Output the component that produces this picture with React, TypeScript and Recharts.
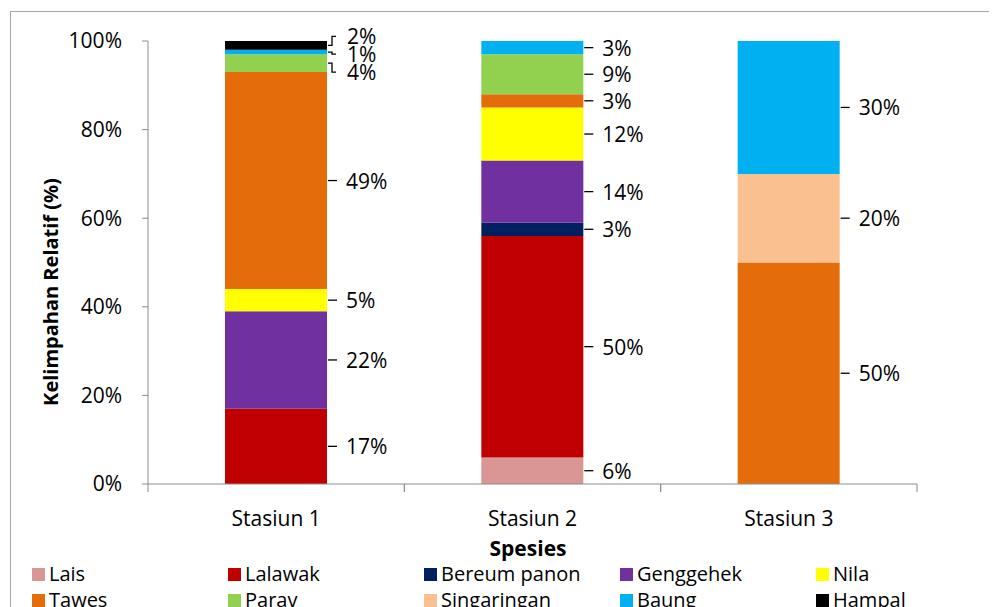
import React from 'react';
import { BarChart, Bar, XAxis, YAxis, LabelList } from 'recharts';

// Relative abundance (%) per station, one array per species
const categories = ['Stasiun 1', 'Stasiun 2', 'Stasiun 3'];
const lais = [0, 6, 0];
const lalawak = [17, 50, 0];
const bereumPanon = [0, 3, 0];
const genggehek = [22, 14, 0];
const nila = [5, 12, 0];
const tawes = [49, 3, 50];
const parav = [4, 9, 0];
const singaringan = [0, 0, 20];
const baung = [1, 3, 30];
const hampal = [2, 0, 0];
const yTicks = [0, 20, 40, 60, 80, 100];

const series = [
  { key: 'lais', name: 'Lais', color: '#D99694', values: lais },
  { key: 'lalawak', name: 'Lalawak', color: '#C00000', values: lalawak },
  { key: 'bereumPanon', name: 'Bereum panon', color: '#002060', values: bereumPanon },
  { key: 'genggehek', name: 'Genggehek', color: '#7030A0', values: genggehek },
  { key: 'nila', name: 'Nila', color: '#FFFF00', values: nila },
  { key: 'tawes', name: 'Tawes', color: '#E46C0A', values: tawes },
  { key: 'parav', name: 'Parav', color: '#92D050', values: parav },
  { key: 'singaringan', name: 'Singaringan', color: '#FAC090', values: singaringan },
  { key: 'baung', name: 'Baung', color: '#00B0F0', values: baung },
  { key: 'hampal', name: 'Hampal', color: '#000000', values: hampal },
];

const data = categories.map((cat, i) => {
  const row: Record<string, string | number> = { station: cat };
  series.forEach((s) => {
    row[s.key] = s.values[i];
  });
  return row;
});

const FONT = "'Open Sans', 'Noto Sans', sans-serif";
const AXIS_COLOR = '#8c8c8c';

const W = 989;
const H = 599;
const MARGIN = { top: 33, right: 80, left: 80, bottom: 63 };
const Y_AXIS_W = 60;
const X_AXIS_H = 60;
const PLOT_W = W - MARGIN.left - MARGIN.right - Y_AXIS_W;
const HALF_BAND = PLOT_W / categories.length / 2;

// Vertical nudges for crowded labels at the top of the first column
const LABEL_SHIFT: Record<string, number> = {
  'hampal|0': -9,
  'baung|0': 2,
  'parav|0': 9,
};

const makeLabel = (seriesKey: string) => (props: any) => {
  const { x, y, width, height, value, index } = props;
  if (!value) return null;
  const xe = Number(x) + Number(width);
  const ym = Number(y) + Number(height) / 2;
  const shift = LABEL_SHIFT[`${seriesKey}|${index}`] || 0;
  const leader =
    shift === 0
      ? `M${xe + 1},${ym} H${xe + 10}`
      : `M${xe + 1},${ym} H${xe + 5} V${ym + shift} H${xe + 9}`;
  return (
    <g>
      <path d={leader} stroke="#000" strokeWidth={1.3} fill="none" />
      <text
        x={xe + (shift === 0 ? 19 : 20)}
        y={ym + shift}
        dominantBaseline="central"
        fontSize={21}
        fontFamily={FONT}
        fill="#000"
      >
        {`${value}%`}
      </text>
    </g>
  );
};

const StationTick = (props: any) => {
  const { x, y, payload } = props;
  return (
    <g>
      <line x1={x - HALF_BAND} y1={y} x2={x - HALF_BAND} y2={y + 8} stroke={AXIS_COLOR} />
      <line x1={x + HALF_BAND} y1={y} x2={x + HALF_BAND} y2={y + 8} stroke={AXIS_COLOR} />
      <text
        x={x}
        y={y + 34}
        textAnchor="middle"
        dominantBaseline="central"
        fontSize={21}
        fontFamily={FONT}
        fill="#000"
      >
        {payload.value}
      </text>
    </g>
  );
};

const legendCols = [24, 220, 416, 612, 808];
const legendRows = [566, 592];

export default function App() {
  return (
    <div style={{ position: 'relative', width: W, height: H, overflow: 'hidden', fontFamily: FONT }}>
      <div
        style={{
          position: 'absolute',
          left: 2,
          top: 3,
          width: 2000,
          height: 2000,
          border: '1px solid #a6a6a6',
        }}
      />
      <div style={{ position: 'absolute', left: 0, top: 0 }}>
        <BarChart width={W} height={H} data={data} margin={MARGIN}>
          <YAxis
            width={Y_AXIS_W}
            domain={[0, 100]}
            ticks={yTicks}
            tickFormatter={(v: number) => `${v}%`}
            axisLine={{ stroke: AXIS_COLOR }}
            tickLine={{ stroke: AXIS_COLOR }}
            tickSize={6}
            tickMargin={20}
            tick={{ fontSize: 21, fontFamily: FONT, fill: '#000' }}
          />
          <XAxis
            dataKey="station"
            height={X_AXIS_H}
            axisLine={{ stroke: AXIS_COLOR }}
            tickLine={false}
            tickSize={0}
            tickMargin={0}
            tick={<StationTick />}
            interval={0}
          />
          {series.map((s) => (
            <Bar
              key={s.key}
              dataKey={s.key}
              name={s.name}
              stackId="a"
              fill={s.color}
              barSize={102}
              isAnimationActive={false}
            >
              <LabelList dataKey={s.key} content={makeLabel(s.key)} />
            </Bar>
          ))}
        </BarChart>
      </div>
      {/* axis titles */}
      <div
        style={{
          position: 'absolute',
          left: 42,
          top: 284,
          transform: 'translate(-50%, -50%) rotate(-90deg)',
          whiteSpace: 'nowrap',
          fontWeight: 700,
          fontSize: 20,
          color: '#000',
        }}
      >
        Kelimpahan Relatif (%)
      </div>
      <div
        style={{
          position: 'absolute',
          left: 520,
          top: 540,
          transform: 'translate(-50%, -50%)',
          whiteSpace: 'nowrap',
          fontWeight: 700,
          fontSize: 21,
          color: '#000',
        }}
      >
        Spesies
      </div>
      {/* legend */}
      {series.map((s, i) => {
        const col = i % 5;
        const row = Math.floor(i / 5);
        return (
          <div
            key={s.key}
            style={{
              position: 'absolute',
              left: legendCols[col],
              top: legendRows[row],
              transform: 'translateY(-50%)',
              display: 'flex',
              alignItems: 'center',
              whiteSpace: 'nowrap',
              fontSize: 20,
              color: '#000',
              lineHeight: '24px',
            }}
          >
            <span style={{ display: 'inline-block', width: 13, height: 13, background: s.color, marginRight: 4 }} />
            {s.name}
          </div>
        );
      })}
    </div>
  );
}
